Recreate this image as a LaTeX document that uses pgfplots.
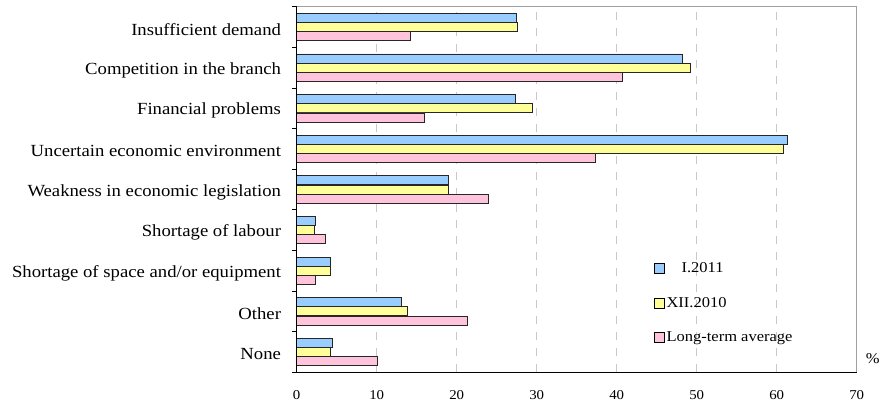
\documentclass[border=0pt]{standalone}
\usepackage{fontspec}
\setmainfont{Liberation Serif}[FakeStretch=1.1]
\usepackage{pgfplots}
\pgfplotsset{compat=1.18}
\definecolor{cblue}{HTML}{99CCFF}
\definecolor{cyellow}{HTML}{FFFF99}
\definecolor{cpink}{HTML}{FFC4DC}
\definecolor{gridgray}{HTML}{C8C8C8}
\definecolor{boxgray}{HTML}{A0A0A0}
\begin{document}
\begin{tikzpicture}[x=1pt,y=1pt]
\useasboundingbox (0,0) rectangle (881,408);
\begin{axis}[
  at={(296.7pt,35.7pt)}, anchor=south west,
  scale only axis, width=560pt, height=365.6pt,
  clip=false,
  xmin=0, xmax=70, ymin=-0.5, ymax=8.5,
  xtick={0,10,...,70},
  ytick={0,...,8},
  yticklabels={None, Other, Shortage of space and/or equipment, Shortage of labour, Weakness in economic legislation, Uncertain economic environment, Financial problems, Competition in the branch, Insufficient demand},
  minor ytick={-0.5,0.5,...,8.5},
  major tick length=0pt,
  minor tick length=5pt,
  tick align=outside,
  ytick pos=left, xtick pos=bottom,
  minor tick style={black, line width=0.8pt},
  xmajorgrids,
  major grid style={gridgray, line width=0.9pt, dash pattern=on 8pt off 8pt},
  axis line style={draw=none},
  /pgf/number format/assume math mode=true,
  xticklabel style={font=\fontsize{13.5}{13.5}\selectfont, inner sep=0pt, anchor=north, yshift=-18pt},
  yticklabel style={font=\fontsize{17}{17}\selectfont, inner sep=0pt, anchor=east, xshift=-15.5pt, yshift=-2.5pt},
  legend style={at={(rel axis cs:0.632,0.311)}, anchor=north west, draw=none, fill=none,
    font=\fontsize{15}{15}\selectfont, row sep=19pt, cells={anchor=west}},
  legend image code/.code={\draw[#1, line width=0.7pt, draw=black] (0pt,-5pt) rectangle (10pt,5pt);},
]
\addplot[xbar, bar width=9pt, bar shift=9.2pt, fill=cblue, draw=black!85, line width=0.8pt]
  coordinates {(27.5,8) (48.2,7) (27.4,6) (61.4,5) (19.0,4) (2.3,3) (4.2,2) (13.1,1) (4.45,0)};
\addplot[xbar, bar width=9pt, bar shift=0pt, fill=cyellow, draw=black!85, line width=0.8pt]
  coordinates {(27.6,8) (49.2,7) (29.5,6) (60.9,5) (19.0,4) (2.2,3) (4.2,2) (13.9,1) (4.2,0)};
\addplot[xbar, bar width=9pt, bar shift=-9.2pt, fill=cpink, draw=black!85, line width=0.8pt]
  coordinates {(14.2,8) (40.7,7) (16.0,6) (37.3,5) (24.0,4) (3.6,3) (2.3,2) (21.3,1) (10.1,0)};
\legend{\hspace*{15pt}I.2011, XII.2010, Long-term average}
\draw[boxgray, line width=0.8pt] (rel axis cs:0,1) -- (rel axis cs:1,1) -- (rel axis cs:1,0);
\draw[black, line width=0.9pt] (rel axis cs:0,1) -- (rel axis cs:0,0) -- (rel axis cs:1,0);
\node[font=\fontsize{15}{15}\selectfont, inner sep=0pt] at ([xshift=16pt, yshift=14pt]rel axis cs:1,0) {\%};
\end{axis}
\end{tikzpicture}
\end{document}
